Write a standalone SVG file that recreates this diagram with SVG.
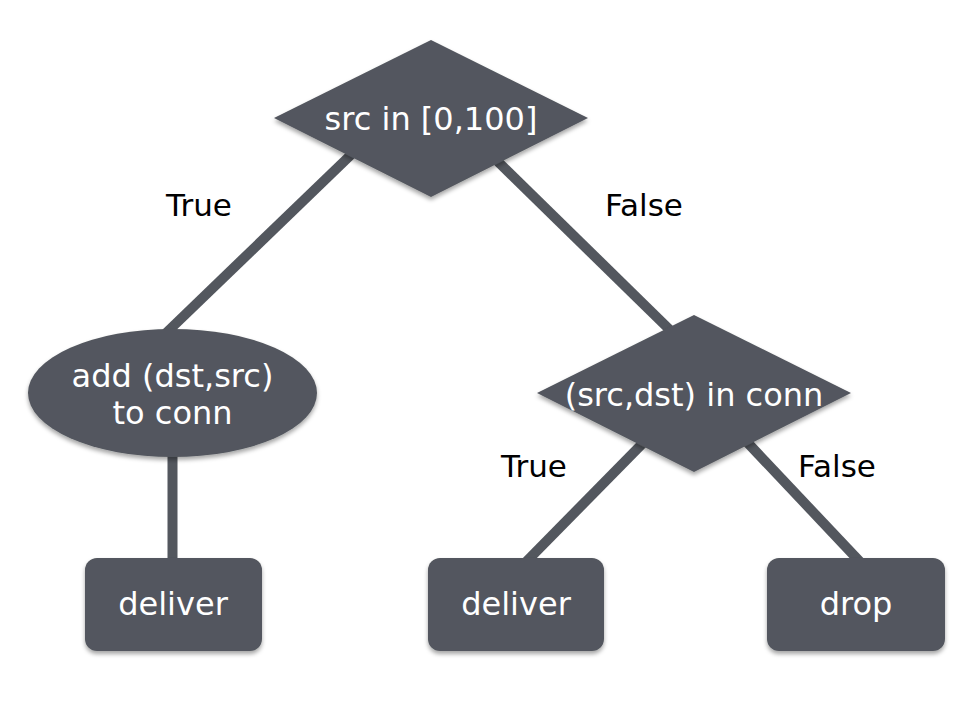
<svg xmlns="http://www.w3.org/2000/svg" width="980" height="710" viewBox="0 0 980 710">
<defs>
<filter id="sh" x="-10%" y="-10%" width="120%" height="130%">
<feDropShadow dx="0" dy="3" stdDeviation="2" flood-color="#000" flood-opacity="0.35"/>
</filter>
</defs>
<style>
.shape{fill:#53575e;filter:url(#sh);}
.edge{stroke:#53575e;stroke-width:10;fill:none;}
.nt{font-family:"DejaVu Sans","Liberation Sans",sans-serif;font-size:32px;fill:#ffffff;text-anchor:middle;}
.lt{font-family:"DejaVu Sans","Liberation Sans",sans-serif;font-size:31px;fill:#000000;text-anchor:middle;}
</style>
<rect width="980" height="710" fill="#ffffff"/>
<g id="connectors">
<line class="edge" x1="358" y1="148" x2="163" y2="336"/>
<line class="edge" x1="484" y1="148" x2="672" y2="332"/>
<line class="edge" x1="172.5" y1="440" x2="172.5" y2="565"/>
<line class="edge" x1="646" y1="440" x2="523" y2="565"/>
<line class="edge" x1="745" y1="440" x2="863" y2="565"/>
<text class="lt" x="199" y="216">True</text>
<text class="lt" x="644" y="216">False</text>
<text class="lt" x="534" y="477">True</text>
<text class="lt" x="837" y="477">False</text>
</g>
<g id="n_src">
<polygon class="shape" points="431,40 588,118 431,197 274,118"/>
<text class="nt" x="431" y="130">src in [0,100]</text>
</g>
<g id="n_add">
<ellipse class="shape" cx="172.5" cy="393" rx="144.5" ry="64"/>
<text class="nt" x="172.5" y="387">add (dst,src)</text>
<text class="nt" x="172.5" y="424">to conn</text>
</g>
<g id="n_conn">
<polygon class="shape" points="694,315 851,393 694,472 537,393"/>
<text class="nt" x="694" y="406">(src,dst) in conn</text>
</g>
<g id="n_deliver1">
<rect class="shape" x="85" y="558" width="177" height="93" rx="12"/>
<text class="nt" x="173" y="615">deliver</text>
</g>
<g id="n_deliver2">
<rect class="shape" x="428" y="558" width="176" height="93" rx="12"/>
<text class="nt" x="516" y="615">deliver</text>
</g>
<g id="n_drop">
<rect class="shape" x="767" y="558" width="178" height="93" rx="12"/>
<text class="nt" x="856" y="615">drop</text>
</g>
</svg>
